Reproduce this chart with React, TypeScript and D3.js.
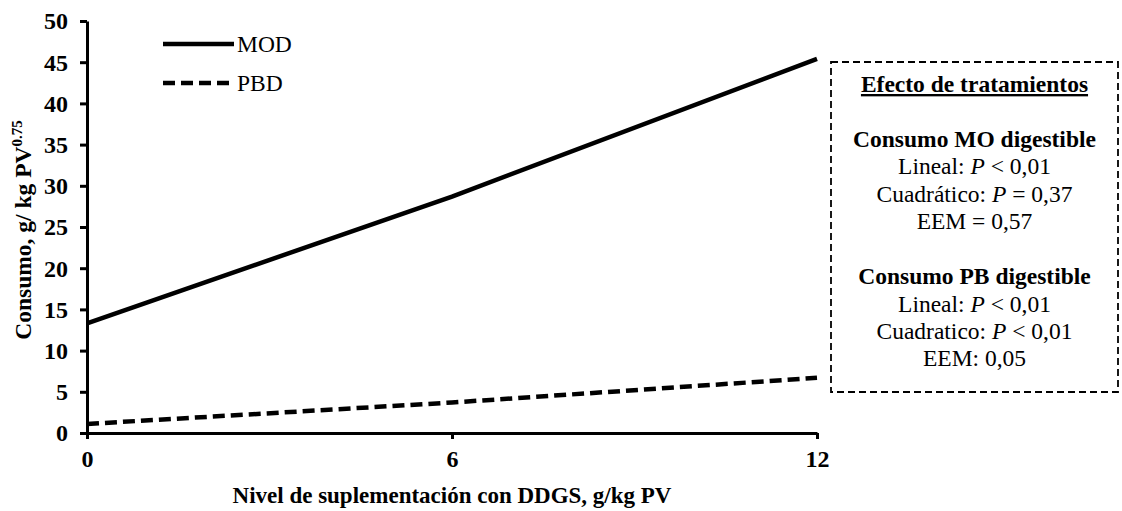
import * as d3 from "d3";
import { useEffect, useRef } from "react";

const levels = [0, 6, 12];
const modValues = [13.3, 28.7, 45.4];
const pbdValues = [1.1, 3.7, 6.7];
const yTicks = [0, 5, 10, 15, 20, 25, 30, 35, 40, 45, 50];
const seriesNames = ["MOD", "PBD"];
const boxLines = [
  { text: "Consumo MO digestible", bold: true },
  { text: "Lineal: |P| < 0,01" },
  { text: "Cuadrático: |P| = 0,37" },
  { text: "EEM = 0,57" },
  { text: "", gap: true },
  { text: "Consumo PB digestible", bold: true },
  { text: "Lineal: |P| < 0,01" },
  { text: "Cuadratico: |P| < 0,01" },
  { text: "EEM: 0,05" },
];

const FONT = "'Liberation Serif', 'Times New Roman', serif";

export default function App() {
  const ref = useRef<SVGSVGElement>(null);

  useEffect(() => {
    const svg = d3.select(ref.current);
    svg.selectAll("*").remove();

    const left = 87;
    const right = 817;
    const top = 21;
    const bottom = 433;

    const x = d3.scaleLinear().domain([0, 12]).range([left, right]);
    const y = d3.scaleLinear().domain([0, 50]).range([bottom, top]);

    // axes
    const yAxis = svg
      .append("g")
      .attr("transform", `translate(${left},0)`)
      .call(d3.axisLeft(y).tickValues(yTicks).tickSize(7).tickSizeOuter(0));
    const xAxis = svg
      .append("g")
      .attr("transform", `translate(0,${bottom})`)
      .call(d3.axisBottom(x).tickValues(levels).tickSize(6).tickSizeOuter(0));

    [yAxis, xAxis].forEach((g) => {
      g.attr("font-family", null).attr("font-size", 24).attr("font-weight", "bold");
      g.select(".domain").attr("stroke", "#000").attr("stroke-width", 3);
      g.selectAll(".tick line").attr("stroke", "#000").attr("stroke-width", 3);
      g.selectAll(".tick text").attr("fill", "#000");
    });
    yAxis.selectAll(".tick text").attr("x", -19).attr("dy", "0.33em");
    xAxis.selectAll(".tick text").attr("y", 34).attr("dy", 0);

    // lines
    const line = d3
      .line<number>()
      .x((_, i) => x(levels[i]))
      .y((d) => y(d));

    svg
      .append("path")
      .datum(modValues)
      .attr("fill", "none")
      .attr("stroke", "#000")
      .attr("stroke-width", 4.5)
      .attr("d", line);

    svg
      .append("path")
      .datum(pbdValues)
      .attr("fill", "none")
      .attr("stroke", "#000")
      .attr("stroke-width", 4.5)
      .attr("stroke-dasharray", "12 6")
      .attr("d", line);

    // legend
    const legend = svg.append("g").attr("font-size", 23.5);
    seriesNames.forEach((name, i) => {
      const ly = 44 + i * 39;
      legend
        .append("line")
        .attr("x1", 163)
        .attr("x2", 234)
        .attr("y1", ly)
        .attr("y2", ly)
        .attr("stroke", "#000")
        .attr("stroke-width", 4.5)
        .attr("stroke-dasharray", i === 1 ? "12 6" : null);
      legend
        .append("text")
        .attr("x", 237)
        .attr("y", ly + 8)
        .text(name);
    });

    // axis titles
    svg
      .append("text")
      .attr("x", 452)
      .attr("y", 503)
      .attr("text-anchor", "middle")
      .attr("font-weight", "bold")
      .attr("font-size", 23)
      .text("Nivel de suplementación con DDGS, g/kg PV");

    const yt = svg
      .append("text")
      .attr("transform", "translate(31,230) rotate(-90)")
      .attr("text-anchor", "middle")
      .attr("font-weight", "bold")
      .attr("font-size", 23.5);
    yt.append("tspan").text("Consumo, g/ kg PV");
    yt.append("tspan").attr("dy", -9).attr("font-size", 15).text("0.75");

    // annotation box
    const bx = 831;
    const by = 62;
    const bw = 287;
    const bh = 330;
    const cx = bx + bw / 2;
    svg
      .append("rect")
      .attr("x", bx)
      .attr("y", by)
      .attr("width", bw)
      .attr("height", bh)
      .attr("fill", "none")
      .attr("stroke", "#000")
      .attr("stroke-width", 1.8)
      .attr("stroke-dasharray", "7 4");

    const box = svg.append("g").attr("font-size", 23.5);

    box
      .append("text")
      .attr("x", cx)
      .attr("y", 92)
      .attr("text-anchor", "middle")
      .attr("font-weight", "bold")
      .attr("text-decoration", "underline")
      .text("Efecto de tratamientos");

    let ty = 147;
    boxLines.forEach((l) => {
      if (l.gap) {
        ty += 28;
        return;
      }
      const t = box
        .append("text")
        .attr("x", cx)
        .attr("y", ty)
        .attr("text-anchor", "middle")
        .attr("font-weight", l.bold ? "bold" : "normal");
      l.text.split("|").forEach((part, i) => {
        t.append("tspan")
          .attr("font-style", i % 2 === 1 ? "italic" : "normal")
          .text(part);
      });
      ty += 27.3;
    });
  }, []);

  return (
    <svg
      ref={ref}
      width={1122}
      height={511}
      style={{
        position: "absolute",
        left: 0,
        top: 0,
        background: "#fff",
        fontFamily: FONT,
      }}
    />
  );
}
